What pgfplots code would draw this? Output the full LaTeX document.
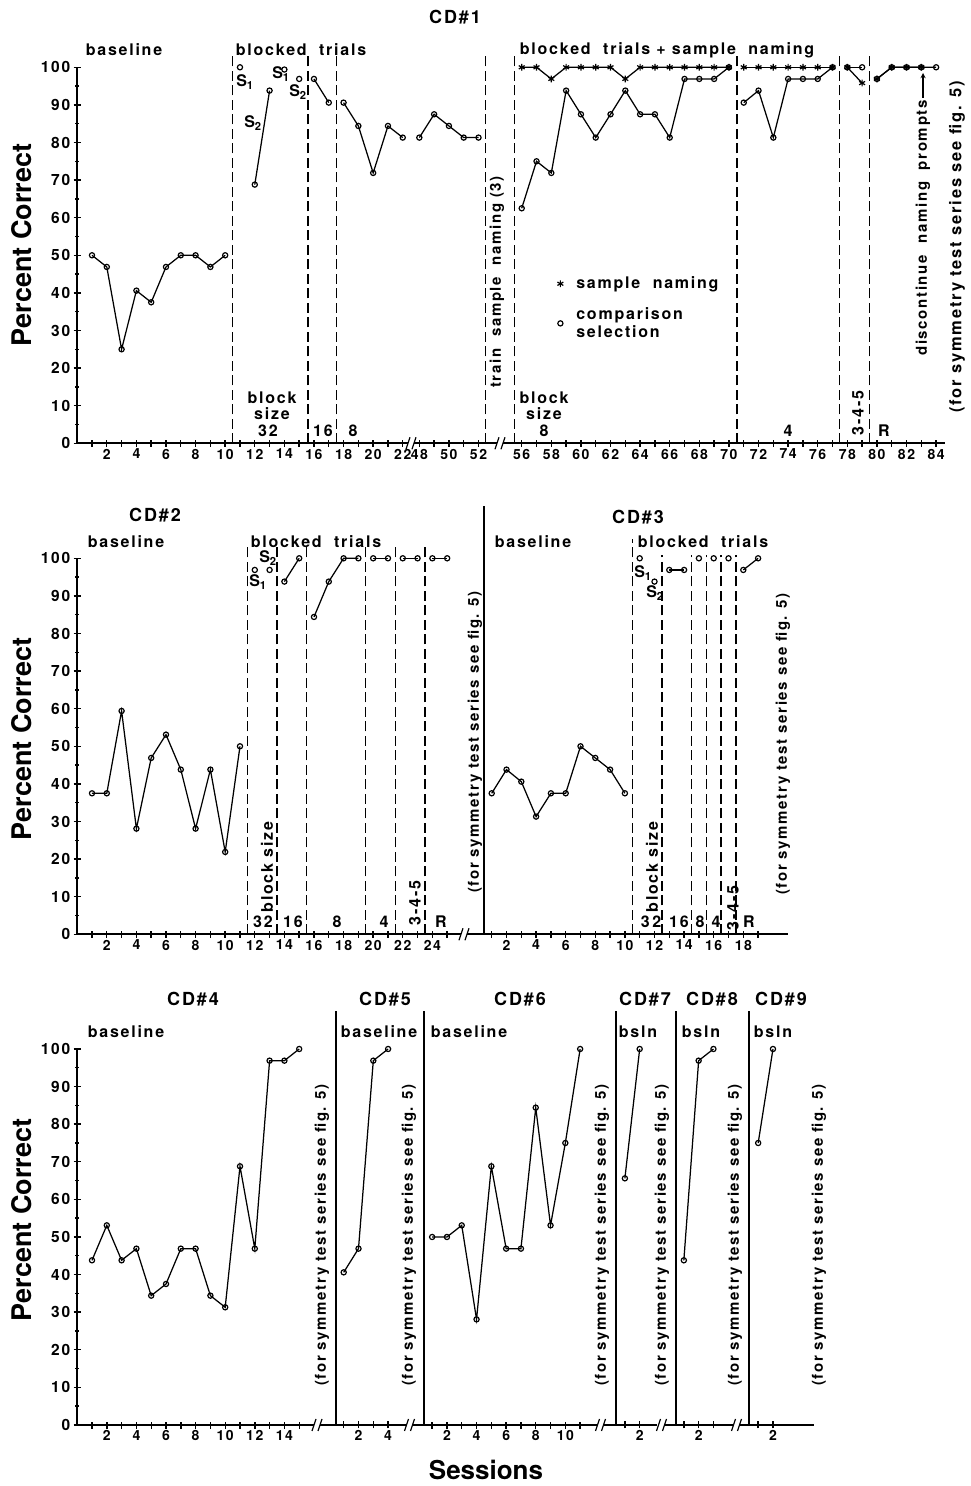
\documentclass[border=0pt]{standalone}
\usepackage{fontspec}
\setmainfont{TeX Gyre Heros}[LetterSpace=11]
\newfontfamily\plainf{TeX Gyre Heros}
\usepackage{pgfplots}
\pgfplotsset{compat=1.18}
\newcommand\fs[1]{\fontsize{#1}{#1}\selectfont}
\newcommand\ytf{\bfseries\fs{15.5}}
\newcommand\xtf{\bfseries\fs{14}}
\newcommand\lf{\bfseries\fs{16}}
\newcommand\nf{\bfseries\fs{15}}
\newcommand\Sb[1]{S\textsubscript{#1}}
\tikzset{dl/.style={black, line width=1.3pt, dash pattern=on 10pt off 4.5pt}}
\pgfplotsset{
  every axis/.append style={
    scale only axis, height=376pt, ymin=0, ymax=100,
    enlargelimits=false, clip=false, anchor=south west,
    axis x line=bottom,
    axis line style={line width=2pt, -},
    tick align=center, major tick length=7pt, minor tick length=4pt,
    tick style={line width=1.4pt, black},
    xticklabel style={font=\xtf, inner sep=1pt, yshift=-1pt},
    yticklabel style={font=\ytf},
    /pgf/number format/assume math mode=true,
    extra x tick labels={},
  },
  withy/.style={axis y line=left, ytick={0,10,...,100}, minor ytick={5,15,...,95},
    axis line style={line width=2pt, -}, y axis line style={-}, x axis line style={-}},
  noyt/.style={axis y line=left, ytick=\empty,
    axis line style={line width=2pt, -}, y axis line style={-}, x axis line style={-}},
  noy/.style={axis y line=none, ytick=\empty, axis line style={line width=2pt, -}, x axis line style={-}},
  comp/.style={black, line width=1.25pt, mark=o, mark size=2.6pt, mark options={fill=white, solid, line width=1.2pt}},
  nam/.style={black, line width=1.25pt, mark=asterisk, mark size=3.4pt, mark options={solid, line width=1.2pt}},
}
\newcommand\brk[2]{\fill[white] (#1-3,#2-4) rectangle (#1+3,#2+4);
  \draw[line width=1.2pt] (#1-5,#2+6) -- (#1-1,#2-6) (#1+1,#2+6) -- (#1+5,#2-6);}
\begin{document}
\begin{tikzpicture}
\useasboundingbox (0,0) rectangle (970pt,1486pt);
% ================= Row 1: CD#1 =================
\begin{axis}[withy, at={(77.2pt,1042.7pt)}, width=333.7pt, xmin=0, xmax=22.55,
  xtick={2,4,...,22}, extra x ticks={1,3,...,21}]
\addplot[comp] coordinates {(1,50)(2,46.9)(3,25)(4,40.6)(5,37.5)(6,46.9)(7,50)(8,50)(9,46.9)(10,50)};
\addplot[comp] coordinates {(11,100)};
\addplot[comp] coordinates {(12,68.8)(13,93.8)};
\addplot[comp] coordinates {(14,99.4)};
\addplot[comp] coordinates {(15,96.9)};
\addplot[comp] coordinates {(16,96.9)(17,90.6)};
\addplot[comp] coordinates {(18,90.6)(19,84.4)(20,71.9)(21,84.4)(22,81.3)};
\draw[dl] (axis cs:10.5,0) -- (axis cs:10.5,103);
\draw[dl] (axis cs:15.6,0) -- (axis cs:15.6,103);
\draw[dl] (axis cs:17.5,0) -- (axis cs:17.5,103);
\end{axis}
\begin{axis}[noy, at={(413.4pt,1042.7pt)}, width=85.84pt, xmin=47.6, xmax=53.4,
  xtick={48,50,52}, extra x ticks={49,51}]
\addplot[comp] coordinates {(48,81.3)(49,87.5)(50,84.4)(51,81.3)(52,81.3)};
\draw[dl] (axis cs:52.45,0) -- (axis cs:52.45,103);
\end{axis}
\begin{axis}[noy, at={(501pt,1042.7pt)}, width=444pt, xmin=54.6, xmax=84.6,
  xtick={56,58,...,84}, extra x ticks={57,59,...,83},
  legend image code/.code={\draw[#1] plot[only marks] coordinates {(0pt,0pt)};},
  legend style={at={(axis cs:58.4,44.8)}, anchor=north west, draw=none, fill=none,
    font=\lf, row sep=13pt, column sep=11pt, inner sep=0pt, legend cell align=left}]
\addlegendimage{nam}\addlegendentry{sample\ \ naming}
\addlegendimage{comp}\addlegendentry{\shortstack[l]{comparison\\selection}}
\addplot[nam] coordinates {(56,100)(57,100)(58,96.9)(59,100)(60,100)(61,100)(62,100)(63,96.9)(64,100)(65,100)(66,100)(67,100)(68,100)(69,100)(70,100)};
\addplot[comp] coordinates {(56,62.5)(57,75)(58,71.9)(59,93.8)(60,87.5)(61,81.3)(62,87.5)(63,93.8)(64,87.5)(65,87.5)(66,81.3)(67,96.9)(68,96.9)(69,96.9)(70,100)};
\addplot[nam] coordinates {(71,100)(72,100)(73,100)(74,100)(75,100)(76,100)(77,100)};
\addplot[comp] coordinates {(71,90.6)(72,93.8)(73,81.3)(74,96.9)(75,96.9)(76,96.9)(77,100)};
\addplot[nam] coordinates {(78,100)(79,95.8)};
\addplot[comp] coordinates {(78,100)(79,100)};
\addplot[nam] coordinates {(80,96.9)(81,100)(82,100)(83,100)};
\addplot[comp] coordinates {(80,96.9)(81,100)(82,100)(83,100)(84,100)};
\draw[dl] (axis cs:55.5,0) -- (axis cs:55.5,103);
\draw[dl] (axis cs:70.55,0) -- (axis cs:70.55,103);
\draw[dl] (axis cs:77.45,0) -- (axis cs:77.45,103);
\draw[dl] (axis cs:79.5,0) -- (axis cs:79.5,103);
\end{axis}
% ================= Row 2: CD#2, CD#3 =================
\begin{axis}[withy, at={(77.2pt,551.7pt)}, width=383.3pt, xmin=0, xmax=25.9,
  xtick={2,4,...,24}, extra x ticks={1,3,...,25}]
\addplot[comp] coordinates {(1,37.5)(2,37.5)(3,59.4)(4,28.1)(5,46.9)(6,53.1)(7,43.8)(8,28.1)(9,43.8)(10,21.9)(11,50)};
\addplot[comp] coordinates {(12,96.9)};
\addplot[comp] coordinates {(13,96.9)};
\addplot[comp] coordinates {(14,93.8)(15,100)};
\addplot[comp] coordinates {(16,84.4)(17,93.8)(18,100)(19,100)};
\addplot[comp] coordinates {(20,100)(21,100)};
\addplot[comp] coordinates {(22,100)(23,100)};
\addplot[comp] coordinates {(24,100)(25,100)};
\draw[dl] (axis cs:11.5,0) -- (axis cs:11.5,103);
\draw[dl] (axis cs:13.5,0) -- (axis cs:13.5,103);
\draw[dl] (axis cs:15.5,0) -- (axis cs:15.5,103);
\draw[dl] (axis cs:19.5,0) -- (axis cs:19.5,103);
\draw[dl] (axis cs:21.5,0) -- (axis cs:21.5,103);
\draw[dl] (axis cs:23.5,0) -- (axis cs:23.5,103);
\end{axis}
\begin{axis}[noyt, at={(484.3pt,551.7pt)}, width=303.4pt, xmin=0.5, xmax=21,
  xtick={2,4,...,18}, extra x ticks={1,3,...,19}]
\addplot[comp] coordinates {(1,37.5)(2,43.8)(3,40.6)(4,31.3)(5,37.5)(6,37.5)(7,50)(8,46.9)(9,43.8)(10,37.5)};
\addplot[comp] coordinates {(11,100)};
\addplot[comp] coordinates {(12,93.8)};
\addplot[comp] coordinates {(13,96.9)(14,96.9)};
\addplot[comp] coordinates {(15,100)};
\addplot[comp] coordinates {(16,100)};
\addplot[comp] coordinates {(17,100)};
\addplot[comp] coordinates {(18,96.9)(19,100)};
\draw[line width=2pt] (axis cs:0.5,99) -- (axis cs:0.5,114);
\draw[dl] (axis cs:10.5,0) -- (axis cs:10.5,105);
\draw[dl] (axis cs:12.5,0) -- (axis cs:12.5,101);
\draw[dl] (axis cs:14.5,0) -- (axis cs:14.5,101);
\draw[dl] (axis cs:15.5,0) -- (axis cs:15.5,101);
\draw[dl] (axis cs:16.5,0) -- (axis cs:16.5,101);
\draw[dl] (axis cs:17.5,0) -- (axis cs:17.5,101);
\end{axis}
% ================= Row 3: CD#4 - CD#9 =================
\begin{axis}[withy, at={(77.2pt,61pt)}, width=236.8pt, xmin=0, xmax=16,
  xtick={2,4,...,14}, extra x ticks={1,3,...,15}]
\addplot[comp] coordinates {(1,43.8)(2,53.1)(3,43.8)(4,46.9)(5,34.4)(6,37.5)(7,46.9)(8,46.9)(9,34.4)(10,31.3)(11,68.8)(12,46.9)(13,96.9)(14,96.9)(15,100)};
\end{axis}
\begin{axis}[noyt, at={(336.3pt,61pt)}, width=71.04pt, xmin=0.5, xmax=5.3,
  xtick={2,4}, extra x ticks={1,3}]
\addplot[comp] coordinates {(1,40.6)(2,46.9)(3,96.9)(4,100)};
\draw[line width=2pt] (axis cs:0.5,99) -- (axis cs:0.5,110);
\end{axis}
\begin{axis}[noyt, at={(424pt,61pt)}, width=173.9pt, xmin=0.45, xmax=12.2,
  xtick={2,4,...,10}, extra x ticks={1,3,...,11}]
\addplot[comp] coordinates {(1,50)(2,50)(3,53.1)(4,28.1)(5,68.8)(6,46.9)(7,46.9)(8,84.4)(9,53.1)(10,75)(11,100)};
\draw[line width=2pt] (axis cs:0.45,99) -- (axis cs:0.45,110);
\end{axis}
\begin{axis}[noyt, at={(616pt,61pt)}, width=41.44pt, xmin=0.4, xmax=3.2,
  xtick={2}, extra x ticks={1}]
\addplot[comp] coordinates {(1,65.6)(2,100)};
\draw[line width=2pt] (axis cs:0.4,99) -- (axis cs:0.4,110);
\end{axis}
\begin{axis}[noyt, at={(675.7pt,61pt)}, width=57.28pt, xmin=0.45, xmax=4.32,
  xtick={2}, extra x ticks={1,3}]
\addplot[comp] coordinates {(1,43.8)(2,96.9)(3,100)};
\draw[line width=2pt] (axis cs:0.45,99) -- (axis cs:0.45,110);
\end{axis}
\begin{axis}[noyt, at={(749.3pt,61pt)}, width=65.1pt, xmin=0.4, xmax=4.8,
  xtick={2}, extra x ticks={1}]
\addplot[comp] coordinates {(1,75)(2,100)};
\draw[line width=2pt] (axis cs:0.4,99) -- (axis cs:0.4,110);
\end{axis}
% ================= Annotations (pixel coordinates, y downward) =================
\begin{scope}[yshift=1486pt, x=1pt, y=-1pt]
\brk{411}{443.3}
\brk{500}{443.3}
\draw[line width=2pt] (467,934.3) -- (484.3,934.3);
\brk{464}{934.3}
\draw[line width=2pt] (320,1425) -- (336.3,1425);
\brk{317}{1425}
\draw[line width=2pt] (412,1425) -- (424,1425);
\brk{409.5}{1425}
\draw[line width=2pt] (603,1425) -- (616,1425);
\brk{600.5}{1425}
\draw[line width=2pt] (664,1425) -- (675.7,1425);
\brk{661.5}{1425}
\draw[line width=2pt] (740,1425) -- (749.3,1425);
\brk{736.5}{1425}
\node[font=\plainf\bfseries\fs{27}, rotate=90] at (22,245) {Percent Correct};
\node[font=\plainf\bfseries\fs{27}, rotate=90] at (22,739) {Percent Correct};
\node[font=\plainf\bfseries\fs{27}, rotate=90] at (22,1220) {Percent Correct};
\node[font=\plainf\bfseries\fs{26}] at (486,1470) {Sessions};
\node[font=\bfseries\fs{18}] at (455,17) {CD\#1};
\node[font=\lf] at (124,50) {baseline};
\node[font=\lf] at (301,50) {blocked\ \ trials};
\node[font=\lf] at (667,50) {blocked\ \ trials\ + sample\ \ naming};
\node[font=\lf] at (245,82) {\Sb{1}};
\node[font=\lf] at (253,123) {\Sb{2}};
\node[font=\lf] at (281,74) {\Sb{1}};
\node[font=\lf] at (298,92) {\Sb{2}};
\node[font=\lf] at (272,398) {block};
\node[font=\lf] at (272,414) {size};
\node[font=\lf] at (268,431) {32};
\node[font=\lf] at (323,431) {16};
\node[font=\lf] at (353,431) {8};
\node[font=\nf, rotate=90] at (497,282) {train\ \ sample\ \ naming (3)};
\node[font=\lf] at (544,398) {block};
\node[font=\lf] at (544,414) {size};
\node[font=\lf] at (544,431) {8};
\node[font=\lf] at (788,431) {4};
\node[font=\lf, rotate=90] at (858,413) {3-4-5};
\node[font=\lf] at (884,431) {R};
\node[font=\nf, rotate=90] at (923,228) {discontinue\ \ naming\ \ prompts};
\draw[line width=1.3pt, -stealth] (923,98) -- (923,73);
\node[font=\bfseries\fs{16.5}, rotate=90] at (957,247) {(for symmetry test series see fig. 5)};
\node[font=\bfseries\fs{18}] at (155,515) {CD\#2};
\node[font=\lf] at (126,542) {baseline};
\node[font=\lf] at (316,542) {blocked\ \ trials};
\node[font=\lf] at (268,558) {\Sb{2}};
\node[font=\lf] at (258,582) {\Sb{1}};
\node[font=\lf, rotate=90] at (267,867) {block size};
\node[font=\lf] at (263,922) {32};
\node[font=\lf] at (293,922) {16};
\node[font=\lf] at (337,922) {8};
\node[font=\lf] at (384,922) {4};
\node[font=\lf, rotate=90] at (415,903) {3-4-5};
\node[font=\lf] at (441,922) {R};
\node[font=\nf, rotate=90] at (475,742) {(for symmetry test series see fig. 5)};
\node[font=\bfseries\fs{18}] at (638,517) {CD\#3};
\node[font=\lf] at (533,542) {baseline};
\node[font=\lf] at (703,542) {blocked\ \ trials};
\node[font=\lf] at (643,573) {\Sb{1}};
\node[font=\lf] at (655,593) {\Sb{2}};
\node[font=\lf, rotate=90] at (652,867) {block size};
\node[font=\lf] at (651,922) {3\,2};
\node[font=\lf] at (679,922) {16};
\node[font=\lf] at (700,922) {8};
\node[font=\lf] at (716,922) {4};
\node[font=\lf, rotate=90] at (733,908) {3-4-5};
\node[font=\lf] at (749,922) {R};
\node[font=\nf, rotate=90] at (783,744) {(for symmetry test series see fig. 5)};
\node[font=\bfseries\fs{18}] at (193,999) {CD\#4};
\node[font=\bfseries\fs{18}] at (385,999) {CD\#5};
\node[font=\bfseries\fs{18}] at (520,999) {CD\#6};
\node[font=\bfseries\fs{18}] at (645,999) {CD\#7};
\node[font=\bfseries\fs{18}] at (712,999) {CD\#8};
\node[font=\bfseries\fs{18}] at (781,999) {CD\#9};
\node[font=\lf] at (126,1032) {baseline};
\node[font=\lf] at (379,1032) {baseline};
\node[font=\lf] at (469,1032) {baseline};
\node[font=\lf] at (638,1032) {bsln};
\node[font=\lf] at (701,1032) {bsln};
\node[font=\lf] at (773,1032) {bsln};
\node[font=\nf, rotate=90] at (322,1235) {(for symmetry test series see fig. 5)};
\node[font=\nf, rotate=90] at (409,1235) {(for symmetry test series see fig. 5)};
\node[font=\nf, rotate=90] at (602,1235) {(for symmetry test series see fig. 5)};
\node[font=\nf, rotate=90] at (662,1235) {(for symmetry test series see fig. 5)};
\node[font=\nf, rotate=90] at (735,1235) {(for symmetry test series see fig. 5)};
\node[font=\nf, rotate=90] at (819,1235) {(for symmetry test series see fig. 5)};
\end{scope}
\end{tikzpicture}
\end{document}
